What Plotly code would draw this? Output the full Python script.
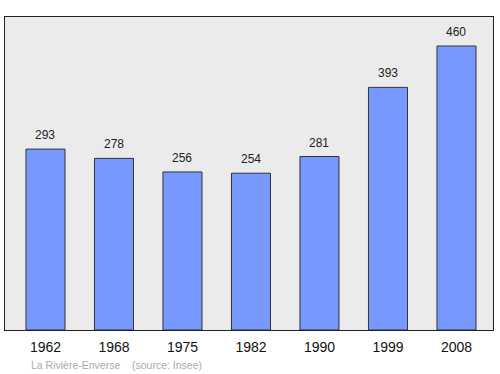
import plotly.graph_objects as go

years = ["1962", "1968", "1975", "1982", "1990", "1999", "2008"]
population = [293, 278, 256, 254, 281, 393, 460]
source_text = "La Rivière-Enverse    (source: Insee)"

xpos = list(range(len(years)))

fig = go.Figure()
fig.add_trace(go.Bar(
    x=xpos, y=population, width=0.57,
    marker=dict(color="#7799ff", line=dict(color="#333333", width=1)),
    hoverinfo="skip",
))

for x, v in zip(xpos, population):
    fig.add_annotation(x=x, y=v, text=str(v), showarrow=False,
                       yanchor="bottom", yshift=5,
                       font=dict(size=12, color="#222222", family="Liberation Sans, Arial, sans-serif"))

fig.add_annotation(x=(29 - 5) / 488, y=-(365 - 330) / 313, xref="paper", yref="paper",
                   xanchor="left", yanchor="middle", text=source_text, showarrow=False,
                   font=dict(size=10.5, color="#aaaaaa"))

fig.update_layout(
    width=500, height=374,
    margin=dict(l=5, r=7, t=17, b=44),
    paper_bgcolor="white", plot_bgcolor="#ebebeb",
    showlegend=False,
    font=dict(family="Liberation Sans, Arial, sans-serif", color="#111111"),
    xaxis=dict(range=[-0.591, 6.533], tickvals=xpos, ticktext=years,
               tickfont=dict(size=14), showgrid=False, zeroline=False,
               showline=True, mirror=True, linecolor="#222222", linewidth=1,
               ticks="outside", ticklen=4, tickcolor="rgba(0,0,0,0)"),
    yaxis=dict(range=[0, 507], showticklabels=False, showgrid=False, zeroline=False,
               showline=True, mirror=True, linecolor="#222222", linewidth=1),
)

fig.write_html("out.html")
